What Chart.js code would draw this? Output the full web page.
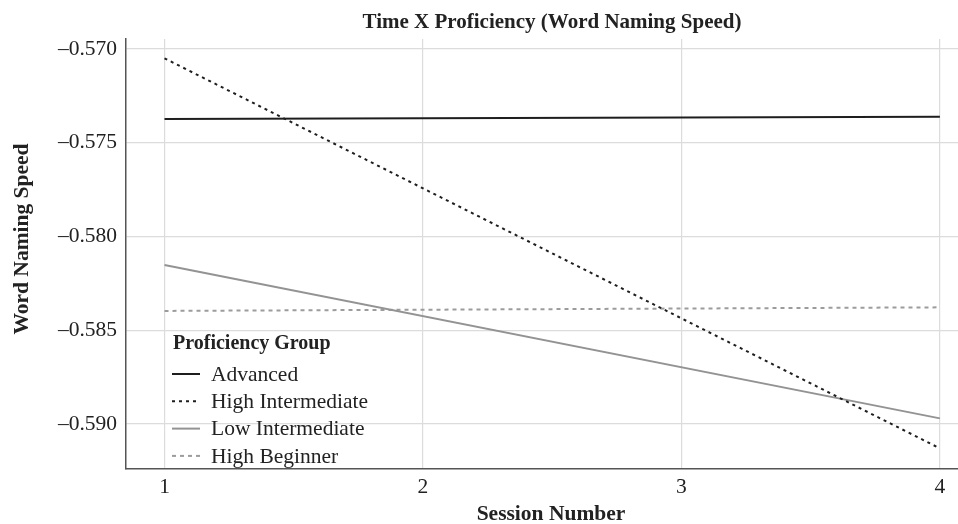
<!DOCTYPE html>
<html>
<head>
<meta charset="utf-8">
<script src="https://cdn.jsdelivr.net/npm/chart.js@4.4.1/dist/chart.umd.min.js"></script>
<style>
html,body{margin:0;padding:0;background:#fff;}
#wrap{width:958px;height:524px;position:relative;}
</style>
</head>
<body>
<div id="wrap"><canvas id="c" width="958" height="524"></canvas></div>
<script>
const sessions = [1, 4];
const advanced = [-0.57374, -0.57362];
const highIntermediate = [-0.5705, -0.5913];
const lowIntermediate = [-0.58152, -0.5897];
const highBeginner = [-0.58397, -0.58378];
const seriesNames = ['Advanced', 'High Intermediate', 'Low Intermediate', 'High Beginner'];
const xTicks = [1, 2, 3, 4];
const yTicks = [-0.570, -0.575, -0.580, -0.585, -0.590];
const chartTitle = 'Time X Proficiency (Word Naming Speed)';
const xTitle = 'Session Number';
const yTitle = 'Word Naming Speed';
const legendTitle = 'Proficiency Group';

const FONT = '"Liberation Serif", "Times New Roman", serif';
const pts = arr => sessions.map((s, i) => ({x: s, y: arr[i]}));

const styles = [
  {borderColor: '#1e1e1e', borderDash: []},
  {borderColor: '#1e1e1e', borderDash: [3, 4]},
  {borderColor: '#939393', borderDash: []},
  {borderColor: '#9c9c9c', borderDash: [4, 4]}
];
const values = [advanced, highIntermediate, lowIntermediate, highBeginner];

const datasets = values.map((v, i) => ({
  label: seriesNames[i],
  data: pts(v),
  borderColor: styles[i].borderColor,
  borderDash: styles[i].borderDash,
  borderWidth: 2,
  pointRadius: 0,
  fill: false,
  tension: 0
}));

const overlay = {
  id: 'overlay',
  afterDraw(chart) {
    const ctx = chart.ctx;
    ctx.save();
    ctx.fillStyle = '#222';
    ctx.textAlign = 'center';
    ctx.textBaseline = 'middle';
    // title
    ctx.font = 'bold 21px ' + FONT;
    ctx.fillText(chartTitle, 552, 23);
    // x title
    ctx.font = 'bold 21.5px ' + FONT;
    ctx.fillText(xTitle, 551, 514);
    // y title
    ctx.save();
    ctx.translate(22, 239);
    ctx.rotate(-Math.PI / 2);
    ctx.fillText(yTitle, 0, 0);
    ctx.restore();
    // legend
    ctx.textAlign = 'left';
    ctx.font = 'bold 20px ' + FONT;
    ctx.fillText(legendTitle, 173, 344);
    ctx.font = '21.5px ' + FONT;
    chart.data.datasets.forEach((ds, i) => {
      const y = 374 + i * 27.3;
      ctx.beginPath();
      ctx.strokeStyle = ds.borderColor;
      ctx.lineWidth = 2;
      ctx.setLineDash(ds.borderDash || []);
      ctx.moveTo(172, y);
      ctx.lineTo(200, y);
      ctx.stroke();
      ctx.setLineDash([]);
      ctx.fillStyle = '#222';
      ctx.fillText(ds.label, 211, y + 1);
    });
    ctx.restore();
  }
};

new Chart(document.getElementById('c'), {
  type: 'line',
  data: {datasets},
  options: {
    responsive: false,
    animation: false,
    devicePixelRatio: 1,
    layout: {padding: {top: 39, right: 0, left: 0, bottom: 0}},
    plugins: {legend: {display: false}, title: {display: false}, tooltip: {enabled: false}},
    scales: {
      x: {
        type: 'linear',
        min: 0.851,
        max: 4.07,
        afterFit: s => { s.height = 55; },
        afterBuildTicks: s => { s.ticks = xTicks.map(v => ({value: v})); },
        grid: {color: '#dcdcdc', lineWidth: 1.2, drawTicks: false},
        border: {color: '#555', width: 1.5},
        ticks: {
          padding: 5,
          color: '#222',
          font: {family: FONT, size: 21.5},
          callback: v => String(v)
        }
      },
      y: {
        type: 'linear',
        min: -0.5924,
        max: -0.56947,
        afterFit: s => { s.width = 126; },
        afterBuildTicks: s => { s.ticks = yTicks.map(v => ({value: v})); },
        grid: {color: '#dcdcdc', lineWidth: 1.2, drawTicks: false},
        border: {color: '#555', width: 1.5},
        ticks: {
          padding: 9,
          color: '#222',
          font: {family: FONT, size: 21.5},
          callback: v => '\u2013' + Math.abs(v).toFixed(3)
        }
      }
    }
  },
  plugins: [overlay]
});
</script>
</body>
</html>
